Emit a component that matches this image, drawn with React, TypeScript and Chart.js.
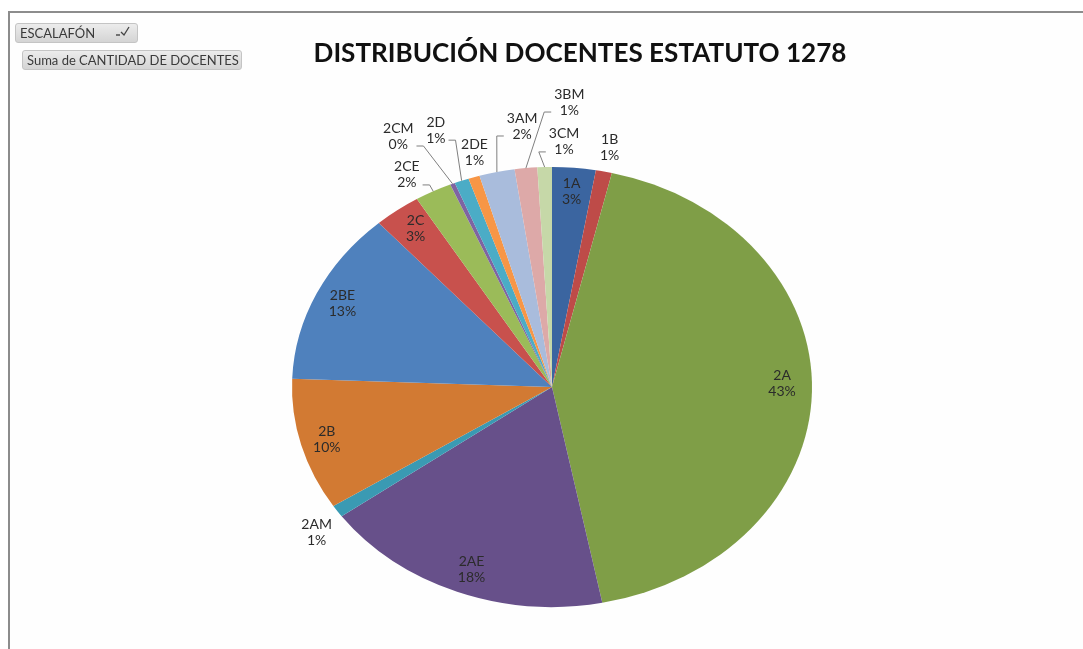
import React, { useEffect, useRef } from "react";
import { Chart, registerables } from "chart.js";

Chart.register(...registerables);

// ---- data ----
const categories = ["1A", "1B", "2A", "2AE", "2AM", "2B", "2BE", "2C", "2CE", "2CM", "2D", "2DE", "3AM", "3BM", "3CM"];
const docentes = [27, 10, 432, 181, 9, 97, 128, 29, 23, 3, 9, 7, 22, 14, 9];
const sliceColors = [
  "#3B65A0", "#BE4B48", "#7F9E47", "#67508A", "#3A9AB3", "#D27A33", "#4F81BD", "#C8514D",
  "#9BBB59", "#7F64A2", "#4BACC6", "#F79646", "#A9BCDC", "#DDA9A8", "#C6D8A8",
];
const chartTitle = "DISTRIBUCIÓN DOCENTES ESTATUTO 1278";
const filterLabel = "ESCALAFÓN";
const valueLabel = "Suma de CANTIDAD DE DOCENTES";

// ---- label placement (radius factor, angle shift in degrees, leader line) ----
const labelPlacement: Record<string, { r: number; d: number; leader?: boolean }> = {
  "1A": { r: 0.89, d: 0 },
  "1B": { r: 1.11, d: 0 },
  "2A": { r: 0.885, d: -2 },
  "2AE": { r: 0.887, d: -1 },
  "2AM": { r: 1.12, d: -1.7 },
  "2B": { r: 0.898, d: 0 },
  "2BE": { r: 0.891, d: 0 },
  "2C": { r: 0.892, d: 0.5 },
  "2CE": { r: 1.114, d: -2.9, leader: true },
  "2CM": { r: 1.285, d: -4.9, leader: true },
  "2D": { r: 1.25, d: -0.6, leader: true },
  "2DE": { r: 1.105, d: 1.8 },
  "3AM": { r: 1.192, d: 6.7, leader: true },
  "3BM": { r: 1.297, d: 8.7, leader: true },
  "3CM": { r: 1.115, d: 4, leader: true },
};

const X_STRETCH = 260 / 220;
const LABEL_FONT = "14px Lato";

const ellipsePlugin = {
  id: "ellipse",
  beforeDatasetsDraw(chart: any) {
    const { ctx, chartArea } = chart;
    const cx = (chartArea.left + chartArea.right) / 2;
    const cy = (chartArea.top + chartArea.bottom) / 2;
    ctx.save();
    ctx.translate(cx, cy);
    ctx.scale(X_STRETCH, 1);
    ctx.translate(-cx, -cy);
  },
  afterDatasetsDraw(chart: any) {
    chart.ctx.restore();
  },
};

const labelsPlugin = {
  id: "pieLabels",
  afterDraw(chart: any) {
    const { ctx } = chart;
    const meta = chart.getDatasetMeta(0);
    const values = chart.data.datasets[0].data as number[];
    const total = values.reduce((a, b) => a + b, 0);
    ctx.save();
    ctx.font = LABEL_FONT;
    ctx.textAlign = "center";
    ctx.textBaseline = "middle";
    meta.data.forEach((arc: any, i: number) => {
      const cat = chart.data.labels[i] as string;
      const p = labelPlacement[cat] || { r: 0.89, d: 0 };
      const R = arc.outerRadius;
      const mid = (arc.startAngle + arc.endAngle) / 2;
      const a = mid + (p.d * Math.PI) / 180;
      const px = arc.x + X_STRETCH * R * p.r * Math.cos(a);
      const py = arc.y + R * p.r * Math.sin(a);
      const l1 = cat;
      const l2 = Math.round((values[i] / total) * 100) + "%";
      ctx.fillStyle = "#2b2b2b";
      ctx.fillText(l1, px, py - 8);
      ctx.fillText(l2, px, py + 8);
      if (p.leader) {
        const rx = arc.x + X_STRETCH * R * Math.cos(mid);
        const ry = arc.y + R * Math.sin(mid);
        const side = rx < px ? -1 : 1;
        const halfW = Math.max(ctx.measureText(l1).width, ctx.measureText(l2).width) / 2;
        const sx0 = px + side * (halfW + 3);
        const sy = py + 10;
        const sx1 = sx0 + side * 7;
        ctx.strokeStyle = "#7f7f7f";
        ctx.lineWidth = 1;
        ctx.beginPath();
        ctx.moveTo(sx0, sy);
        ctx.lineTo(sx1, sy);
        ctx.lineTo(rx, ry);
        ctx.stroke();
      }
    });
    ctx.restore();
  },
};

const titlePlugin = {
  id: "customTitle",
  afterDraw(chart: any) {
    const { ctx } = chart;
    ctx.save();
    ctx.font = "bold 24px Lato";
    const w = ctx.measureText(chartTitle).width;
    const size = (24 * 533) / w;
    ctx.font = `bold ${size.toFixed(2)}px Lato`;
    ctx.fillStyle = "#111111";
    ctx.textAlign = "center";
    ctx.textBaseline = "alphabetic";
    ctx.fillText(chartTitle, 580, 62);
    ctx.restore();
  },
};

const buttonStyle: React.CSSProperties = {
  position: "absolute",
  height: 20,
  boxSizing: "border-box",
  border: "1px solid #c4c4c4",
  borderRadius: 3,
  background: "linear-gradient(#ececec, #d4d4d4)",
  font: "13px Lato, 'Open Sans', sans-serif",
  color: "#3a3a3a",
  lineHeight: "18px",
  paddingLeft: 4,
  whiteSpace: "nowrap",
};

export default function App() {
  const canvasRef = useRef<HTMLCanvasElement | null>(null);

  useEffect(() => {
    if (!canvasRef.current) return;
    const chart = new Chart(canvasRef.current, {
      type: "pie",
      data: {
        labels: categories,
        datasets: [
          {
            data: docentes,
            backgroundColor: sliceColors,
            borderWidth: 0,
          },
        ],
      },
      options: {
        responsive: false,
        animation: false,
        devicePixelRatio: 1,
        layout: { padding: { left: 332, right: 311, top: 167, bottom: 42 } },
        plugins: {
          legend: { display: false },
          tooltip: { enabled: false },
          title: { display: false },
        },
      },
      plugins: [ellipsePlugin, labelsPlugin, titlePlugin],
    });
    return () => chart.destroy();
  }, []);

  return (
    <div style={{ position: "fixed", left: 0, top: 0, width: 1083, height: 649, background: "#ffffff", overflow: "hidden" }}>
      <div
        style={{
          position: "absolute",
          left: 8,
          top: 11,
          right: -4,
          bottom: -4,
          borderLeft: "2px solid #8c8c8c",
          borderTop: "2px solid #8c8c8c",
          background: "#fefefe",
        }}
      />
      <canvas ref={canvasRef} width={1083} height={649} style={{ position: "absolute", left: 0, top: 0, width: 1083, height: 649 }} />
      <div style={{ ...buttonStyle, left: 15, top: 23, width: 123 }}>
        {filterLabel}
        <svg width="16" height="13" style={{ position: "absolute", right: 6, top: 2 }}>
          <line x1="1" y1="9" x2="5" y2="9" stroke="#444" strokeWidth="1.4" />
          <polyline points="6,6 9,9 14,1" fill="none" stroke="#444" strokeWidth="1.3" />
        </svg>
      </div>
      <div style={{ ...buttonStyle, left: 22, top: 50, width: 220 }}>{valueLabel}</div>
    </div>
  );
}
